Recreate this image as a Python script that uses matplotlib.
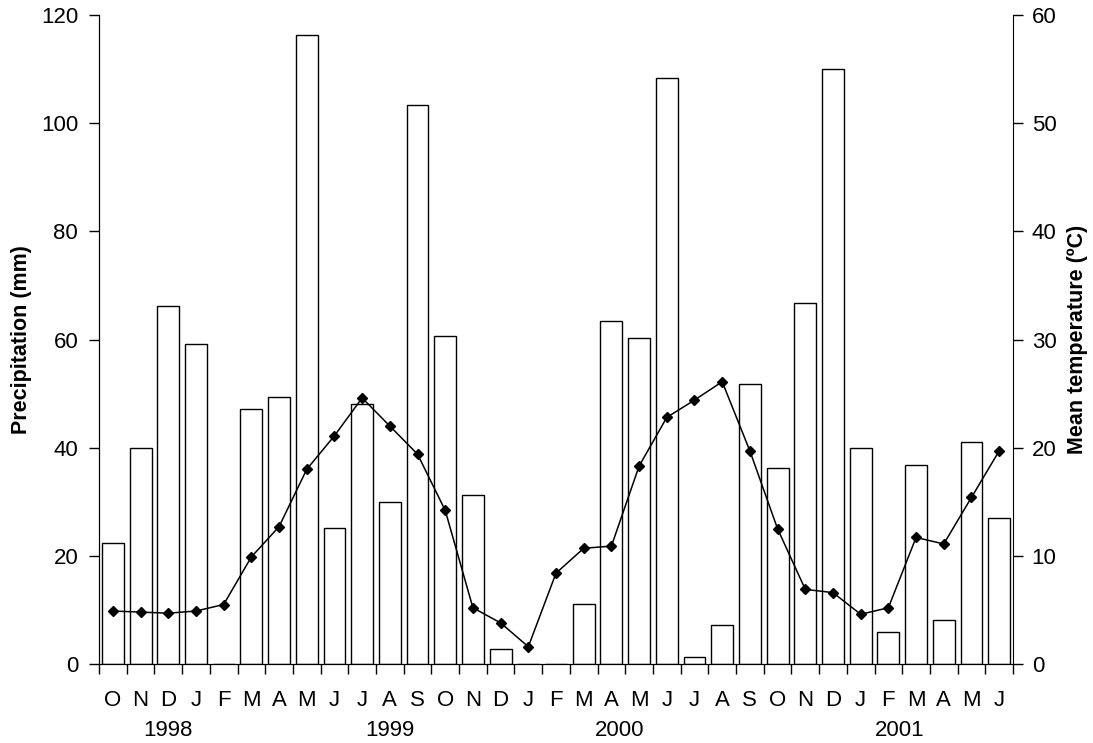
import matplotlib
matplotlib.use("Agg")
import matplotlib.pyplot as plt
import numpy as np

plt.rcParams['font.family'] = ['Liberation Sans', 'DejaVu Sans']

# monthly series, Oct 1998 - Jun 2001
months = ["O", "N", "D",
          "J", "F", "M", "A", "M", "J", "J", "A", "S", "O", "N", "D",
          "J", "F", "M", "A", "M", "J", "J", "A", "S", "O", "N", "D",
          "J", "F", "M", "A", "M", "J"]
precip = [22.3, 40.0, 66.2,
          59.2, 0.0, 47.1, 49.3, 116.3, 25.2, 48.0, 30.0, 103.3, 60.6, 31.3, 2.7,
          0.0, 0.0, 11.1, 63.5, 60.3, 108.3, 1.3, 7.3, 51.7, 36.3, 66.7, 110.0,
          40.0, 6.0, 36.8, 8.1, 41.0, 27.0]
temp = [4.9, 4.8, 4.7,
        4.9, 5.5, 9.9, 12.7, 18.0, 21.1, 24.6, 22.0, 19.4, 14.2, 5.2, 3.8,
        1.6, 8.4, 10.7, 10.9, 18.3, 22.8, 24.4, 26.1, 19.7, 12.5, 6.9, 6.6,
        4.6, 5.2, 11.7, 11.1, 15.4, 19.7]
years = ["1998", "1999", "2000", "2001"]
year_pos = [2, 10, 18.3, 28.4]

x = np.arange(len(months))

fig = plt.figure(figsize=(10.93, 7.43), dpi=100)
ax = fig.add_axes([0.0906, 0.1063, 0.8362, 0.8735])
ax2 = ax.twinx()

ax.bar(x, precip, width=0.79, color="white", edgecolor="black", linewidth=1.0, zorder=2)
ax2.plot(x, temp, color="black", linewidth=1.1, marker="D", markersize=5.5, zorder=3)

ax.set_xlim(-0.5, len(months) - 0.5)
ax.set_ylim(0, 120)
ax2.set_ylim(0, 60)
ax.set_yticks(range(0, 121, 20))
ax2.set_yticks(range(0, 61, 10))

# tick marks between months, labels centred on each month
ax.set_xticks(np.arange(-0.5, len(months), 1.0))
ax.set_xticklabels([])
ax.set_xticks(x, minor=True)
ax.set_xticklabels(months, minor=True)
ax.tick_params(axis="x", which="major", direction="out", length=7, width=1)
ax.tick_params(axis="x", which="minor", length=0, pad=19, labelsize=16)
ax.tick_params(axis="y", direction="out", length=7, width=1, labelsize=16, pad=8)
ax2.tick_params(axis="y", direction="out", length=7, width=1, labelsize=16, pad=6.5)

for a in (ax, ax2):
    a.spines["top"].set_visible(False)
ax.spines["right"].set_visible(False)

for yr, pos in zip(years, year_pos):
    ax.text(pos, -0.102, yr, transform=ax.get_xaxis_transform(),
            ha="center", va="center", fontsize=16)

ax.set_ylabel("Precipitation (mm)", fontsize=15.5, fontweight="bold")
ax.yaxis.set_label_coords(-0.073, 0.5)
ax2.set_ylabel("Mean temperature (ºC)", fontsize=15.5, fontweight="bold", rotation=90)
ax2.yaxis.set_label_coords(1.059, 0.5)

ax2.set_zorder(ax.get_zorder() + 1)
ax2.patch.set_visible(False)

plt.savefig("out.png", dpi=100)
